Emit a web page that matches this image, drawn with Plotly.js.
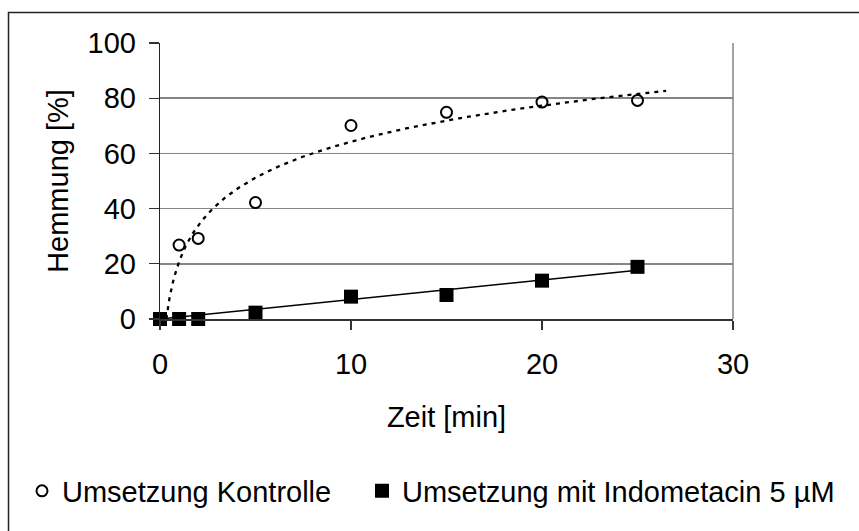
<!DOCTYPE html>
<html>
<head>
<meta charset="utf-8">
<script src="https://cdn.plot.ly/plotly-3.0.1.min.js"></script>
<style>html,body{margin:0;padding:0;background:#fff;}#chart{width:859px;height:531px;}</style>
</head>
<body>
<div id="chart"></div>
<script>
// Data
const zeit = [0, 1, 2, 5, 10, 15, 20, 25];
const kontrolleZeit = [1, 2, 5, 10, 15, 20, 25];
const kontrolle = [26.8, 29.2, 42.2, 70.1, 74.9, 78.6, 79.2];
const indometacin = [0, 0, 0, 2.3, 8.1, 8.7, 13.9, 18.9];
const xTicks = [0, 10, 20, 30];
const yTicks = [0, 20, 40, 60, 80, 100];
const nameKontrolle = 'Umsetzung Kontrolle';
const nameIndo = 'Umsetzung mit Indometacin 5 µM';
const xForecastEnd = 26.5;

// Logarithmic trendline (least squares on ln x) for the control series
function logFit(xs, ys) {
  const lx = xs.map(Math.log);
  const n = xs.length;
  const mx = lx.reduce((a, b) => a + b, 0) / n;
  const my = ys.reduce((a, b) => a + b, 0) / n;
  let sxx = 0, sxy = 0;
  for (let i = 0; i < n; i++) { sxx += (lx[i] - mx) ** 2; sxy += (lx[i] - mx) * (ys[i] - my); }
  const a = sxy / sxx;
  return { a: a, b: my - a * mx };
}
// Linear trendline through the origin for the indometacin series
function linFit0(xs, ys) {
  let sxy = 0, sxx = 0;
  for (let i = 0; i < xs.length; i++) { sxy += xs[i] * ys[i]; sxx += xs[i] * xs[i]; }
  return sxy / sxx;
}
const lf = logFit(kontrolleZeit, kontrolle);
const x0 = Math.exp(-lf.b / lf.a);
const trendX = [], trendY = [];
const N = 300;
for (let i = 0; i <= N; i++) {
  const t = i / N;
  const x = x0 * Math.pow(xForecastEnd / x0, t);
  trendX.push(x);
  trendY.push(lf.a * Math.log(x) + lf.b);
}
const slope = linFit0(zeit, indometacin);
const linX = [zeit[0], zeit[zeit.length - 1]];
const linY = linX.map(x => slope * x);

const FONT = 'Liberation Sans, Arial, sans-serif';
const W = 859, H = 531;
const m = { l: 160, r: 126, t: 43, b: 212 };
const pw = W - m.l - m.r, ph = H - m.t - m.b;
const pxX = px => (px - m.l) / pw;
const pxY = py => (H - m.b - py) / ph;

const traces = [
  { x: trendX, y: trendY, mode: 'lines', line: { color: '#000', width: 2.3, dash: '4px,5px' }, showlegend: false, hoverinfo: 'skip', cliponaxis: false },
  { x: linX, y: linY, mode: 'lines', line: { color: '#000', width: 1.5 }, showlegend: false, hoverinfo: 'skip', cliponaxis: false },
  { x: kontrolleZeit, y: kontrolle, mode: 'markers', name: nameKontrolle, legend: 'legend', cliponaxis: false,
    marker: { symbol: 'circle-open', size: 11, color: '#000', line: { width: 2, color: '#000' } } },
  { x: zeit, y: indometacin, mode: 'markers', name: nameIndo, legend: 'legend2', cliponaxis: false,
    marker: { symbol: 'square', size: 14, color: '#000' } }
];

const layout = {
  width: W, height: H,
  margin: m,
  paper_bgcolor: '#fff', plot_bgcolor: '#fff',
  font: { family: FONT, size: 29, color: '#000' },
  showlegend: true,
  xaxis: {
    range: [0, 30], tickvals: xTicks, ticktext: xTicks.map(String),
    showgrid: false, zeroline: false,
    showline: true, linecolor: '#333', linewidth: 1.5,
    ticks: 'outside', ticklen: 9, tickcolor: '#333', tickwidth: 1.2,
    ticklabelstandoff: 10,
    tickfont: { family: FONT, size: 29, color: '#000' },
    title: { text: 'Zeit [min]', font: { family: FONT, size: 29, color: '#000' }, standoff: 27 },
    fixedrange: true
  },
  yaxis: {
    range: [0, 100], tickvals: yTicks, ticktext: yTicks.map(String),
    showgrid: true, gridcolor: '#858585', gridwidth: 1.5, zeroline: false,
    showline: true, linecolor: '#222', linewidth: 1.2,
    ticks: 'outside', ticklen: 10, tickcolor: '#333', tickwidth: 1.2,
    ticklabelstandoff: 7,
    tickfont: { family: FONT, size: 29, color: '#000' },
    title: { text: 'Hemmung [%]', font: { family: FONT, size: 29, color: '#000' }, standoff: 10 },
    fixedrange: true
  },
  legend: {
    xref: 'container', yref: 'container', x: 22 / W, y: 1 - 491 / H,
    xanchor: 'left', yanchor: 'middle', orientation: 'h',
    bgcolor: 'rgba(0,0,0,0)', borderwidth: 0,
    font: { family: FONT, size: 29, color: '#000' }
  },
  legend2: {
    xref: 'container', yref: 'container', x: 362 / W, y: 1 - 491 / H,
    xanchor: 'left', yanchor: 'middle', orientation: 'h',
    bgcolor: 'rgba(0,0,0,0)', borderwidth: 0,
    font: { family: FONT, size: 29, color: '#000' }
  },
  shapes: [
    { type: 'line', xref: 'x domain', yref: 'y domain', x0: 1, x1: 1, y0: 0, y1: 1,
      line: { color: '#858585', width: 1.5 }, layer: 'below' },
    { type: 'rect', xref: 'paper', yref: 'paper', x0: pxX(8.5), x1: pxX(880), y0: pxY(12.5), y1: pxY(560),
      line: { color: '#222', width: 1.5 }, fillcolor: 'rgba(0,0,0,0)', layer: 'below' }
  ]
};

Plotly.newPlot('chart', traces, layout, { displayModeBar: false, staticPlot: true });
</script>
</body>
</html>
